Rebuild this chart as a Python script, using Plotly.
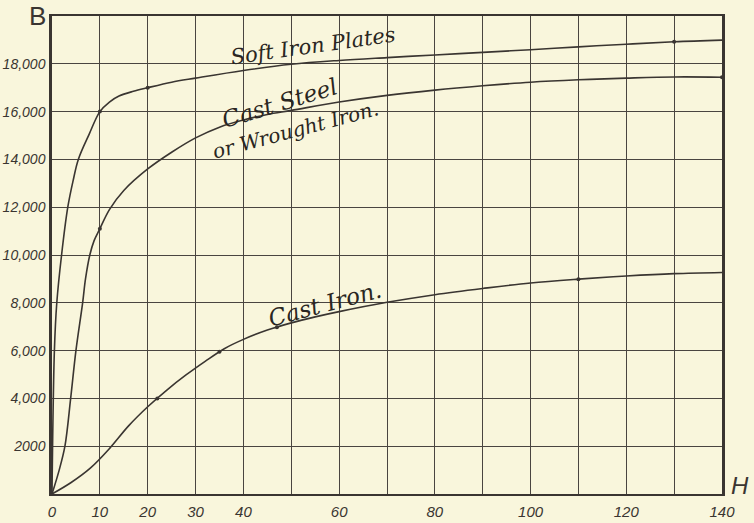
import plotly.graph_objects as go

# Magnetisation curves: flux density B against magnetising force H
H_soft = [0, 0.5, 1, 2, 3.3, 4.4, 5.5, 7.8, 10, 12, 14, 17, 20, 25, 30, 40, 50, 60, 70, 80, 90, 100, 110, 120,
          130, 140]
B_soft = [0, 6000, 8000, 10000, 12000, 13100, 14000, 15070, 16000, 16400, 16650, 16850, 17000, 17230, 17400,
          17720, 17980, 18140, 18260, 18370, 18480, 18590, 18710, 18820, 18920, 18990]

H_steel = [0, 1.5, 2.7, 3.9, 5, 6.4, 7.0, 7.9, 8.8, 10, 12, 15, 20, 25, 30, 35, 40, 45, 50, 60, 70, 80, 90, 100,
           110, 120, 130, 140]
B_steel = [0, 1000, 2000, 4000, 6000, 8000, 9000, 10000, 10600, 11100, 11900, 12700, 13600, 14300, 14900, 15350,
           15650, 15880, 16050, 16400, 16680, 16900, 17080, 17230, 17330, 17400, 17450, 17440]

H_cast = [0, 4, 8, 12, 16, 20, 24, 28, 32, 36, 40, 45, 50, 55, 60, 70, 80, 90, 100, 110, 120, 130, 140]
B_cast = [0, 480, 1080, 1900, 2850, 3650, 4350, 4980, 5550, 6080, 6470, 6860, 7160, 7410, 7630, 8020, 8340, 8600,
          8830, 8990, 9120, 9220, 9270]

# Observed points marked along each curve
obs_H_soft = [10, 20, 130]
obs_B_soft = [16000, 17000, 18920]
obs_H_steel = [10, 140]
obs_B_steel = [11100, 17440]
obs_H_cast = [22, 35, 47, 110]
obs_B_cast = [4000, 5950, 6980, 8990]

x_ticks = list(range(0, 150, 10))
x_labels = ["0", "10", "20", "30", "40", "", "60", "", "80", "", "100", "", "120", "", "140"]
y_ticks = list(range(0, 22000, 2000))
y_labels = ["", "2000", "4,000", "6,000", "8,000", "10,000", "12,000", "14,000", "16,000", "18,000", ""]

INK = "#3a3531"
PAPER = "#F9F6DC"

fig = go.Figure()
for hx, by in [(H_soft, B_soft), (H_steel, B_steel), (H_cast, B_cast)]:
    fig.add_trace(go.Scatter(x=hx, y=by, mode="lines",
                             line=dict(color=INK, width=1.6, shape="spline", smoothing=1.0),
                             hoverinfo="skip", showlegend=False))
for hx, by in [(obs_H_soft, obs_B_soft), (obs_H_steel, obs_B_steel), (obs_H_cast, obs_B_cast)]:
    fig.add_trace(go.Scatter(x=hx, y=by, mode="markers",
                             marker=dict(color=INK, size=4),
                             hoverinfo="skip", showlegend=False))

label_font = dict(family="DejaVu Serif", color="#2a2622", style="italic")

fig.update_xaxes(range=[0, 140], tickvals=x_ticks, ticktext=x_labels, automargin=False,
                 showgrid=True, gridcolor="#4a4540", gridwidth=1.3,
                 showline=True, linecolor=INK, linewidth=2, mirror=True,
                 zeroline=False, ticks="", ticklabelstandoff=3,
                 tickfont=dict(family="Liberation Sans", size=15, color=INK, style="italic"))
fig.update_yaxes(range=[0, 20000], tickvals=y_ticks, ticktext=y_labels, automargin=False,
                 showgrid=True, gridcolor="#4a4540", gridwidth=1.3,
                 showline=True, linecolor=INK, linewidth=2.5, mirror=True,
                 zeroline=False, ticks="", ticklabelstandoff=1,
                 tickfont=dict(family="Liberation Sans", size=14, color=INK, style="italic"))

annotations = [
    dict(x=54.5, y=18750, text="Soft Iron Plates", textangle=-8, font=dict(size=21, **label_font)),
    dict(x=47.6, y=16380, text="Cast Steel", textangle=-17, font=dict(size=23, **label_font)),
    dict(x=50.8, y=15250, text="or Wrought Iron.", textangle=-15, font=dict(size=20, **label_font)),
    dict(x=57, y=7950, text="Cast Iron.", textangle=-15, font=dict(size=23, **label_font)),
]
for a in annotations:
    fig.add_annotation(xref="x", yref="y", showarrow=False, **a)

fig.add_annotation(xref="paper", yref="paper", x=-0.022, y=1.0, xanchor="center", yanchor="middle",
                   text="B", showarrow=False, font=dict(family="Liberation Sans", size=26, color=INK))
fig.add_annotation(xref="paper", yref="paper", x=1.027, y=0.017, xanchor="center", yanchor="middle",
                   text="H", showarrow=False, font=dict(family="Liberation Sans", size=24, color=INK, style="italic"))

fig.update_layout(width=754, height=523, margin=dict(l=52, r=32, t=16, b=29),
                  paper_bgcolor=PAPER, plot_bgcolor=PAPER)

fig.write_html("out.html")
